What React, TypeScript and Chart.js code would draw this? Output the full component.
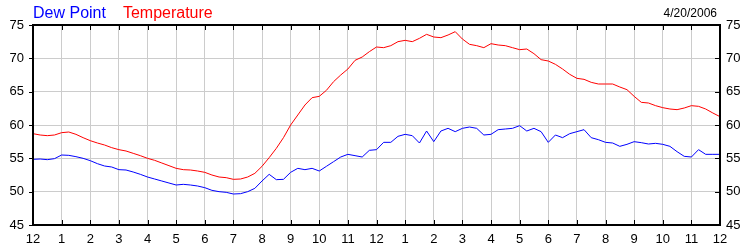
import React, { useEffect, useRef } from "react";
import { Chart, registerables } from "chart.js";

Chart.register(...registerables);

// Readings every 15 minutes from 12 AM to 12 AM (97 samples)
const STEP_HOURS = 0.25;

const temperature = [
  58.7, 58.5, 58.4, 58.5, 58.85, 58.95, 58.6, 58.1,
  57.65, 57.3, 57.0, 56.6, 56.3, 56.1, 55.75, 55.4,
  55.0, 54.7, 54.3, 53.9, 53.5, 53.3, 53.25, 53.1,
  52.9, 52.5, 52.2, 52.1, 51.85, 51.9, 52.2, 52.75,
  53.8, 55.1, 56.5, 58.1, 60.0, 61.5, 63.0, 64.1,
  64.3, 65.2, 66.5, 67.5, 68.4, 69.7, 70.2, 71.0,
  71.7, 71.6, 71.9, 72.5, 72.7, 72.5, 73.0, 73.6,
  73.2, 73.1, 73.5, 74.0, 72.9, 72.1, 71.9, 71.6,
  72.2, 72.0, 71.9, 71.6, 71.3, 71.4, 70.7, 69.8,
  69.6, 69.1, 68.4, 67.6, 67.0, 66.85, 66.4, 66.15,
  66.15, 66.15, 65.7, 65.3, 64.3, 63.4, 63.3, 62.9,
  62.6, 62.4, 62.3, 62.55, 62.9, 62.8, 62.4, 61.8,
  61.25,
];

const dewPoint = [
  54.85, 54.9, 54.8, 54.95, 55.5, 55.45, 55.25, 55.0,
  54.65, 54.2, 53.85, 53.7, 53.3, 53.25, 52.95, 52.6,
  52.2, 51.9, 51.6, 51.3, 51.0, 51.1, 51.0, 50.85,
  50.6, 50.2, 50.0, 49.9, 49.65, 49.7, 50.0, 50.5,
  51.6, 52.6, 51.8, 51.85, 52.9, 53.5, 53.3, 53.5,
  53.1, 53.8, 54.5, 55.2, 55.6, 55.4, 55.2, 56.2,
  56.3, 57.4, 57.4, 58.3, 58.6, 58.4, 57.3, 59.1,
  57.5, 59.1, 59.5, 59.0, 59.5, 59.7, 59.5, 58.5,
  58.6, 59.3, 59.4, 59.5, 59.9, 59.1, 59.5, 59.0,
  57.4, 58.5, 58.1, 58.7, 59.0, 59.3, 58.1, 57.8,
  57.4, 57.3, 56.8, 57.1, 57.5, 57.35, 57.15, 57.25,
  57.1, 56.8, 56.0, 55.3, 55.2, 56.3, 55.6, 55.6,
  55.6,
];

const hourLabels = ["12", "1", "2", "3", "4", "5", "6", "7", "8", "9", "10", "11",
  "12", "1", "2", "3", "4", "5", "6", "7", "8", "9", "10", "11", "12"];

const yMin = 45;
const yMax = 75;
const yStep = 5;

const seriesNames = ["Dew Point", "Temperature"];
const seriesColors = ["#0000ff", "#ff0000"];
const dateLabel = "4/20/2006";

const FONT = "'Liberation Sans', Arial, sans-serif";

const frame = {
  id: "frame",
  afterDatasetsDraw(chart: any) {
    const { ctx, chartArea } = chart;
    const { left, right, top, bottom } = chartArea;
    const xs = chart.scales.x;
    const yl = chart.scales.y;
    ctx.save();
    ctx.strokeStyle = "#000";
    ctx.lineWidth = 1;
    ctx.beginPath();
    xs.ticks.forEach((t: any) => {
      const px = Math.round(xs.getPixelForValue(t.value)) + 0.5;
      ctx.moveTo(px, top);
      ctx.lineTo(px, top + 5);
      ctx.moveTo(px, bottom);
      ctx.lineTo(px, bottom - 5);
    });
    yl.ticks.forEach((t: any) => {
      const py = Math.round(yl.getPixelForValue(t.value)) + 0.5;
      ctx.moveTo(left - 4, py);
      ctx.lineTo(left, py);
      ctx.moveTo(right - 5, py);
      ctx.lineTo(right, py);
    });
    ctx.stroke();
    ctx.lineWidth = 2;
    ctx.strokeRect(left, top, right - left, bottom - top);
    ctx.restore();
  },
  afterDraw(chart: any) {
    const { ctx, chartArea } = chart;
    ctx.save();
    ctx.textBaseline = "alphabetic";
    ctx.font = `16px ${FONT}`;
    ctx.textAlign = "left";
    let x = chartArea.left;
    seriesNames.forEach((name, i) => {
      ctx.fillStyle = seriesColors[i];
      ctx.fillText(name, x, 18);
      x += ctx.measureText(name).width + 17;
    });
    ctx.font = `12px ${FONT}`;
    ctx.fillStyle = "#000";
    ctx.textAlign = "right";
    ctx.fillText(dateLabel, chartArea.right - 3, 17);
    ctx.restore();
  },
};

export default function App() {
  const ref = useRef<HTMLCanvasElement | null>(null);
  useEffect(() => {
    if (!ref.current) return;
    const toPoints = (arr: number[]) => arr.map((v, i) => ({ x: i * STEP_HOURS, y: v }));
    const chart = new Chart(ref.current, {
      type: "line",
      data: {
        datasets: [
          {
            label: seriesNames[0],
            data: toPoints(dewPoint),
            borderColor: seriesColors[0],
            borderWidth: 1,
            pointRadius: 0,
            tension: 0,
            yAxisID: "y",
          },
          {
            label: seriesNames[1],
            data: toPoints(temperature),
            borderColor: seriesColors[1],
            borderWidth: 1,
            pointRadius: 0,
            tension: 0,
            yAxisID: "y",
          },
        ],
      },
      options: {
        animation: false,
        responsive: false,
        events: [],
        layout: { padding: { top: 25, left: 0, right: 0, bottom: 0 } },
        plugins: { legend: { display: false }, tooltip: { enabled: false } },
        scales: {
          x: {
            type: "linear",
            min: 0,
            max: 24,
            afterFit: (s: any) => { s.height = 25; },
            grid: { color: "#cccccc", drawTicks: false, lineWidth: 1 },
            border: { display: false },
            ticks: {
              stepSize: 1,
              autoSkip: false,
              maxRotation: 0,
              padding: 7,
              color: "#000",
              font: { family: FONT, size: 13 },
              callback: (v: any) => hourLabels[Math.round(Number(v))],
            },
          },
          y: {
            position: "left",
            min: yMin,
            max: yMax,
            afterFit: (s: any) => { s.width = 33; },
            grid: { color: "#cccccc", drawTicks: false, lineWidth: 1 },
            border: { display: false },
            ticks: {
              stepSize: yStep,
              padding: 9,
              color: "#000",
              font: { family: FONT, size: 13 },
            },
          },
          y2: {
            position: "right",
            min: yMin,
            max: yMax,
            afterFit: (s: any) => { s.width = 30; },
            grid: { display: false, drawTicks: false },
            border: { display: false },
            ticks: {
              stepSize: yStep,
              padding: 6,
              color: "#000",
              font: { family: FONT, size: 13 },
            },
          },
        },
      },
      plugins: [frame],
    });
    return () => chart.destroy();
  }, []);
  return (
    <div style={{ position: "absolute", left: 0, top: 0, width: 750, height: 250, background: "#fff" }}>
      <canvas ref={ref} width={750} height={250} style={{ display: "block" }} />
    </div>
  );
}
